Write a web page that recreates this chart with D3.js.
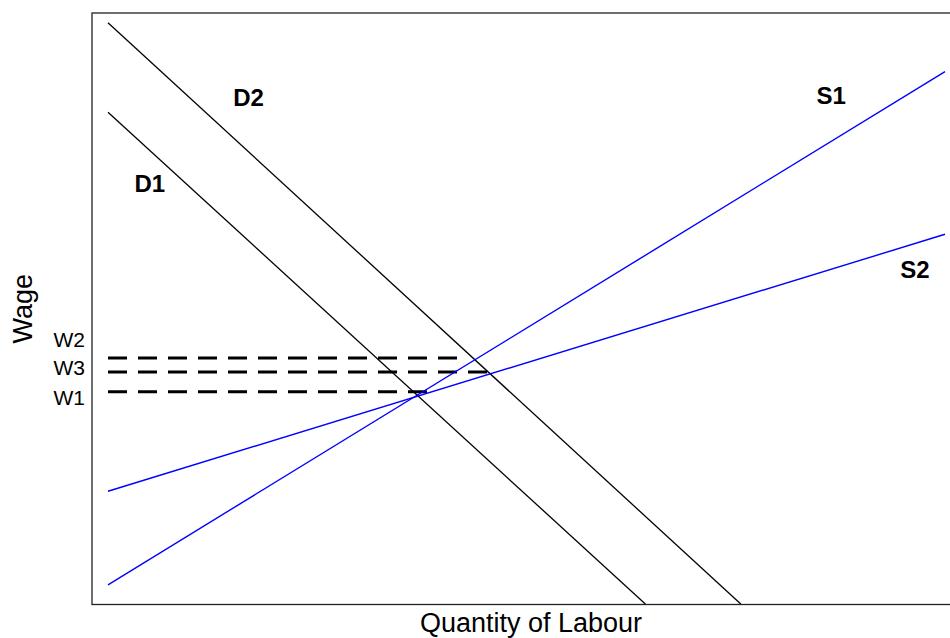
<!DOCTYPE html>
<html>
<head>
<meta charset="utf-8">
<script src="https://cdn.jsdelivr.net/npm/d3@7"></script>
<style>
  html, body { margin: 0; padding: 0; background: #fff; }
  svg { display: block; }
  text { font-family: "Liberation Sans", Arial, Helvetica, sans-serif; }
</style>
</head>
<body>
<svg id="chart" width="950" height="638"></svg>
<script>
// ---- data (x: quantity of labour, y: wage; arbitrary units) ----
const demandNames = ["D1", "D2"];
const demandStart = [[0, 84.6], [0, 100]];
const demandEnd   = [[32.1, 0], [37.8, 0]];

const supplyNames = ["S1", "S2"];
const supplyStart = [[0, 3.3], [0, 19.4]];
const supplyEnd   = [[50, 91.6], [50, 63.6]];

const wageNames    = ["W2", "W3", "W1"];
const wageLevels   = [42.3, 39.9, 36.5];
const wageDashEnd  = [20.9, 22.7, 19.1];

const wageTickLabels = ["W2", "W3", "W1"];
const wageTickValues = [45.4, 40.6, 35.4];

const curveLabels = ["D2", "D1", "S1", "S2"];
const curveLabelX = [8.4, 2.5, 43.2, 48.2];
const curveLabelY = [87.2, 72.4, 87.4, 57.6];

const xTitle = "Quantity of Labour";
const yTitle = "Wage";

// ---- layout ----
const svg = d3.select("#chart");
const box = { left: 92, top: 13, right: 970, bottom: 604.5 };

const x = d3.scaleLinear().domain([0, 50]).range([108, 945]);
const y = d3.scaleLinear().domain([0, 100]).range([604, 22.7]);

// frame
svg.append("rect")
  .attr("x", box.left).attr("y", box.top)
  .attr("width", box.right - box.left).attr("height", box.bottom - box.top)
  .attr("fill", "none").attr("stroke", "#222").attr("stroke-width", 1.3);

const line = d3.line().x(d => x(d[0])).y(d => y(d[1]));

// dashed wage lines
wageLevels.forEach((w, i) => {
  svg.append("path")
    .attr("d", line([[0, w], [wageDashEnd[i], w]]))
    .attr("fill", "none").attr("stroke", "#000")
    .attr("stroke-width", 3).attr("stroke-dasharray", "19,11");
});

// demand curves
demandNames.forEach((n, i) => {
  svg.append("path")
    .attr("d", line([demandStart[i], demandEnd[i]]))
    .attr("fill", "none").attr("stroke", "#000").attr("stroke-width", 1.3);
});

// supply curves
supplyNames.forEach((n, i) => {
  svg.append("path")
    .attr("d", line([supplyStart[i], supplyEnd[i]]))
    .attr("fill", "none").attr("stroke", "#0000ff").attr("stroke-width", 1.4);
});

// y axis tick labels
const yAxis = d3.axisLeft(y)
  .tickValues(wageTickValues)
  .tickFormat((d, i) => wageTickLabels[i])
  .tickSize(0).tickPadding(7);
const gy = svg.append("g").attr("transform", `translate(${box.left},0)`).call(yAxis);
gy.select(".domain").remove();
gy.selectAll("text")
  .attr("font-family", '"Liberation Sans", Arial, sans-serif')
  .attr("font-size", 21).attr("fill", "#000");

// curve labels
curveLabels.forEach((t, i) => {
  svg.append("text")
    .attr("x", x(curveLabelX[i])).attr("y", y(curveLabelY[i]))
    .attr("text-anchor", "middle").attr("dominant-baseline", "central")
    .attr("font-size", 24).attr("font-weight", "bold").attr("fill", "#000")
    .text(t);
});

// axis titles
svg.append("text")
  .attr("x", (box.left + box.right) / 2).attr("y", 632)
  .attr("text-anchor", "middle").attr("font-size", 27).attr("fill", "#000")
  .text(xTitle);

svg.append("text")
  .attr("transform", `translate(32,${(box.top + box.bottom) / 2}) rotate(-90)`)
  .attr("text-anchor", "middle").attr("font-size", 27).attr("fill", "#000")
  .text(yTitle);
</script>
</body>
</html>
